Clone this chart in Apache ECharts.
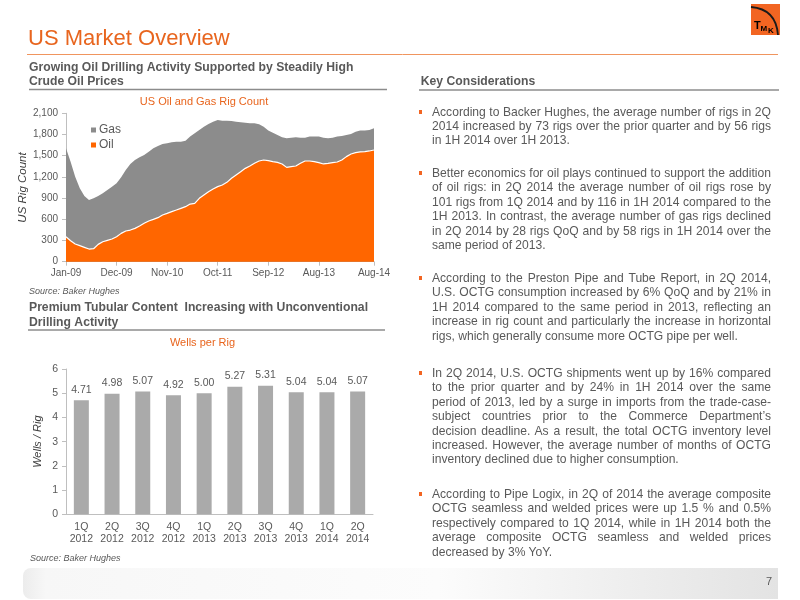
<!DOCTYPE html>
<html>
<head>
<meta charset="utf-8">
<script src="https://cdn.jsdelivr.net/npm/echarts@6/dist/echarts.min.js"></script>
<style>
  body { margin: 0; background: #fff; }
  #page { position: relative; width: 800px; height: 600px; overflow: hidden; font-family: 'Liberation Sans', Arial, sans-serif; }
  #chart { position: absolute; left: 0; top: 0; width: 800px; height: 600px; }
  .para { position: absolute; left: 432px; width: 339px; color: #595959; font-size: 12.1px; }
  .para div { height: 14.4px; line-height: 14.4px; text-align: justify; text-align-last: justify; }
  .para div.last { text-align-last: left; }
  .para .dot { position: absolute; left: -13px; top: 5px; width: 3px; height: 4px; background: #F26522; }
</style>
</head>
<body>
<div id="page">
  <div id="chart"></div>
</div>
<script>
// months of the rig count series, Jan-09 .. Aug-14
const months = [
  'Jan-09','Feb-09','Mar-09','Apr-09','May-09','Jun-09','Jul-09','Aug-09','Sep-09','Oct-09','Nov-09','Dec-09',
  'Jan-10','Feb-10','Mar-10','Apr-10','May-10','Jun-10','Jul-10','Aug-10','Sep-10','Oct-10','Nov-10','Dec-10',
  'Jan-11','Feb-11','Mar-11','Apr-11','May-11','Jun-11','Jul-11','Aug-11','Sep-11','Oct-11','Nov-11','Dec-11',
  'Jan-12','Feb-12','Mar-12','Apr-12','May-12','Jun-12','Jul-12','Aug-12','Sep-12','Oct-12','Nov-12','Dec-12',
  'Jan-13','Feb-13','Mar-13','Apr-13','May-13','Jun-13','Jul-13','Aug-13','Sep-13','Oct-13','Nov-13','Dec-13',
  'Jan-14','Feb-14','Mar-14','Apr-14','May-14','Jun-14','Jul-14','Aug-14'
];
// total rigs (top of grey area = gas on top of oil)
const rigTotal = [
  1604,1416,1203,1038,930,873,897,930,967,1015,1062,1109,
  1194,1298,1383,1439,1477,1510,1557,1604,1637,1666,1675,1689,
  1699,1699,1713,1770,1817,1864,1911,1949,1982,2006,1996,1996,
  1991,1982,1973,1968,1958,1958,1944,1911,1855,1826,1793,1760,
  1746,1755,1760,1755,1755,1770,1770,1770,1755,1746,1755,1770,
  1779,1793,1807,1840,1855,1855,1864,1888
];
// oil rigs
const oilRigs = [
  354,297,250,227,203,179,184,245,283,302,321,354,
  401,434,448,472,505,543,576,599,623,661,684,708,
  731,755,779,816,826,897,944,991,1029,1062,1085,1123,
  1180,1227,1274,1321,1354,1392,1425,1439,1430,1416,1406,1383,
  1335,1345,1354,1392,1425,1425,1416,1402,1383,1392,1402,1411,
  1439,1487,1524,1543,1553,1557,1567,1581
];

const quarters = ['1Q\n2012','2Q\n2012','3Q\n2012','4Q\n2012','1Q\n2013','2Q\n2013','3Q\n2013','4Q\n2013','1Q\n2014','2Q\n2014'];
const wellsPerRig = [4.71, 4.98, 5.07, 4.92, 5.00, 5.27, 5.31, 5.04, 5.04, 5.07];

// right column text, line by line as on the slide
const bullets = [
  ['According to Backer Hughes, the average number of rigs in 2Q',
   '2014 increased by 73 rigs over the prior quarter and by 56 rigs',
   'in 1H 2014 over 1H 2013.'],
  ['Better economics for oil plays continued to support the addition',
   'of oil rigs: in 2Q 2014 the average number of oil rigs rose by',
   '101 rigs from 1Q 2014 and by 116 in 1H 2014 compared to the',
   '1H 2013. In contrast, the average number of gas rigs declined',
   'in 2Q 2014 by 28 rigs QoQ and by 58 rigs in 1H 2014 over the',
   'same period of 2013.'],
  ['According to the Preston Pipe and Tube Report, in 2Q 2014,',
   'U.S. OCTG consumption increased by 6% QoQ and by 21% in',
   '1H 2014 compared to the same period in 2013, reflecting an',
   'increase in rig count and particularly the increase in horizontal',
   'rigs, which generally consume more OCTG pipe per well.'],
  ['In 2Q 2014, U.S. OCTG shipments went up by 16% compared',
   'to the prior quarter and by 24% in 1H 2014 over the same',
   'period of 2013, led by a surge in imports from the trade-case-',
   'subject countries prior to the Commerce Department\u2019s',
   'decision deadline. As a result, the total OCTG inventory level',
   'increased. However, the average number of months of OCTG',
   'inventory declined due to higher consumption.'],
  ['According to Pipe Logix, in 2Q of 2014 the average composite',
   'OCTG seamless and welded prices were up 1.5 % and 0.5%',
   'respectively compared to 1Q 2014, while in 1H 2014 both the',
   'average composite OCTG seamless and welded prices',
   'decreased by 3% YoY.']
];
const bulletTops = [104.5, 166, 271, 366, 487];

const page = document.getElementById('page');
bullets.forEach(function (lines, k) {
  const p = document.createElement('div');
  p.className = 'para';
  p.style.top = bulletTops[k] + 'px';
  const dot = document.createElement('span');
  dot.className = 'dot';
  p.appendChild(dot);
  lines.forEach(function (t, j) {
    const d = document.createElement('div');
    d.textContent = t;
    if (j === lines.length - 1) d.className = 'last';
    p.appendChild(d);
  });
  page.appendChild(p);
});

const FONT = "'Liberation Sans', Arial, sans-serif";
const grey = '#595959';
const orange = '#E8651E';
const axisGrey = '#BFBFBF';

// show Jan-09, Dec-09, Nov-10 ... Aug-13 and the last month
function monthTick(i) {
  return (i % 11 === 0 && i < 66) || i === months.length - 1;
}

function txt(x, y, text, size, color, extra) {
  return {
    type: 'text', silent: true,
    style: Object.assign({
      x: x, y: y, text: text, fill: color,
      font: size + 'px ' + FONT,
      textAlign: 'left', textVerticalAlign: 'middle',
      align: 'left', verticalAlign: 'middle'
    }, extra || {})
  };
}
function hline(x1, x2, y, color, w) {
  return { type: 'line', silent: true, shape: { x1: x1, y1: y, x2: x2, y2: y }, style: { stroke: color, lineWidth: w } };
}
const headFont = 'bold 12.2px ' + FONT;

const chart = echarts.init(document.getElementById('chart'));
chart.setOption({
  animation: false,
  textStyle: { fontFamily: FONT },
  legend: {
    data: ['Gas', 'Oil'],
    orient: 'vertical',
    left: 86, top: 119,
    itemWidth: 5, itemHeight: 5, itemGap: 3,
    icon: 'rect',
    textStyle: { fontSize: 12, color: grey, padding: [0, 0, 0, -2] }
  },
  grid: [
    { left: 66, top: 113.3, width: 308, height: 148.4 },
    { left: 66, top: 369, width: 307, height: 145.3 }
  ],
  xAxis: [{
    gridIndex: 0,
    type: 'category',
    data: months,
    boundaryGap: false,
    axisLine: { lineStyle: { color: axisGrey } },
    axisTick: { interval: monthTick, length: 4, lineStyle: { color: axisGrey } },
    axisLabel: { interval: monthTick, fontSize: 10, color: grey, margin: 7, hideOverlap: false }
  }, {
    gridIndex: 1,
    type: 'category',
    data: quarters,
    axisLine: { lineStyle: { color: axisGrey } },
    axisTick: { length: 4, lineStyle: { color: axisGrey } },
    axisLabel: { fontSize: 10.5, color: grey, lineHeight: 12, margin: 7 }
  }],
  yAxis: [{
    gridIndex: 0,
    type: 'value',
    min: 0, max: 2100, interval: 300,
    name: 'US Rig Count',
    nameLocation: 'middle',
    nameGap: 37,
    nameTextStyle: { fontSize: 11.5, fontStyle: 'italic', color: '#404040' },
    axisLine: { show: true, lineStyle: { color: axisGrey } },
    axisTick: { show: true, length: 4, lineStyle: { color: axisGrey } },
    splitLine: { show: false },
    axisLabel: {
      fontSize: 10, color: grey, margin: 8,
      formatter: function (v) { return v.toLocaleString('en-US'); }
    }
  }, {
    gridIndex: 1,
    type: 'value',
    min: 0, max: 6, interval: 1,
    name: 'Wells / Rig',
    nameLocation: 'middle',
    nameGap: 23,
    nameTextStyle: { fontSize: 11, fontStyle: 'italic', color: '#404040' },
    axisLine: { show: true, lineStyle: { color: axisGrey } },
    axisTick: { show: true, length: 4, lineStyle: { color: axisGrey } },
    splitLine: { show: false },
    axisLabel: { fontSize: 10.5, color: grey, margin: 8 }
  }],
  series: [{
    name: 'Gas',
    type: 'line',
    xAxisIndex: 0, yAxisIndex: 0,
    data: rigTotal,
    symbol: 'none',
    lineStyle: { width: 0 },
    itemStyle: { color: '#8C8C8C' },
    areaStyle: { color: '#8C8C8C', opacity: 1 }
  }, {
    name: 'Oil',
    type: 'line',
    xAxisIndex: 0, yAxisIndex: 0,
    data: oilRigs,
    symbol: 'none',
    lineStyle: { width: 1.2, color: '#FFFFFF' },
    itemStyle: { color: '#FF6600' },
    areaStyle: { color: '#FF6600', opacity: 1 }
  }, {
    name: 'Wells per Rig',
    type: 'bar',
    xAxisIndex: 1, yAxisIndex: 1,
    data: wellsPerRig,
    barWidth: 15,
    itemStyle: { color: '#AAAAAA' },
    label: {
      show: true, position: 'top', distance: 5,
      fontSize: 10.5, color: grey,
      formatter: function (p) { return p.value.toFixed(2); }
    }
  }],
  graphic: [
    // header
    txt(28, 39, 'US Market Overview', 22, orange),
    hline(27, 778, 54.5, '#F0955E', 1),
    { type: 'rect', silent: true, shape: { x: 751, y: 4, width: 29, height: 31 }, style: { fill: '#F26522' } },
    { type: 'bezierCurve', silent: true, shape: { x1: 751, y1: 7, cpx1: 776, cpy1: 9, x2: 778, y2: 35 }, style: { stroke: '#1a1a1a', lineWidth: 1.8, fill: null } },
    txt(754, 26, 'T', 11, '#000', { font: 'bold 11px ' + FONT }),
    txt(760.5, 29, 'M', 8, '#000', { font: 'bold 8px ' + FONT }),
    txt(768, 30.5, 'K', 8, '#000', { font: 'bold 8px ' + FONT }),
    // left column headings
    txt(29, 67.7, 'Growing Oil Drilling Activity Supported by Steadily High', 12.2, grey, { font: headFont }),
    txt(29, 81.7, 'Crude Oil Prices', 12.2, grey, { font: headFont }),
    hline(29, 387, 89.5, '#8C8C8C', 1.5),
    txt(204, 101.7, 'US Oil and Gas Rig Count', 11, orange, { textAlign: 'center', align: 'center' }),
    txt(338.5, 146.7, 'Gas - 17%', 10.5, '#FFFFFF', { font: 'bold 10.5px ' + FONT, textAlign: 'center', align: 'center' }),
    txt(340, 209, 'Oil -83%', 10.5, '#FFFFFF', { font: 'bold 10.5px ' + FONT, textAlign: 'center', align: 'center' }),
    txt(29, 291, 'Source: Baker Hughes', 9, grey, { font: 'italic 9px ' + FONT }),
    txt(29, 307.3, 'Premium Tubular Content  Increasing with Unconventional', 12.2, grey, { font: headFont }),
    txt(29, 322.3, 'Drilling Activity', 12.2, grey, { font: headFont }),
    hline(28, 385, 330, '#8C8C8C', 1.5),
    txt(202.5, 343.3, 'Wells per Rig', 11, orange, { textAlign: 'center', align: 'center' }),
    txt(30, 558.3, 'Source: Baker Hughes', 9, grey, { font: 'italic 9px ' + FONT }),
    // right column heading
    txt(420.7, 81.7, 'Key Considerations', 12.2, grey, { font: headFont }),
    hline(419, 779, 90, '#8C8C8C', 1.5),
    // footer band and page number
    {
      type: 'rect', silent: true, z: -1,
      shape: { x: 23, y: 568, width: 755, height: 31, r: [8, 0, 0, 8] },
      style: {
        fill: {
          type: 'linear', x: 0, y: 0, x2: 1, y2: 0,
          colorStops: [
            { offset: 0, color: '#ECECEC' },
            { offset: 0.03, color: '#F7F7F7' },
            { offset: 0.55, color: '#FCFCFC' },
            { offset: 1, color: '#E3E3E3' }
          ]
        }
      }
    },
    txt(769, 582, '7', 11, grey, { textAlign: 'center', align: 'center' })
  ]
});
</script>
</body>
</html>
